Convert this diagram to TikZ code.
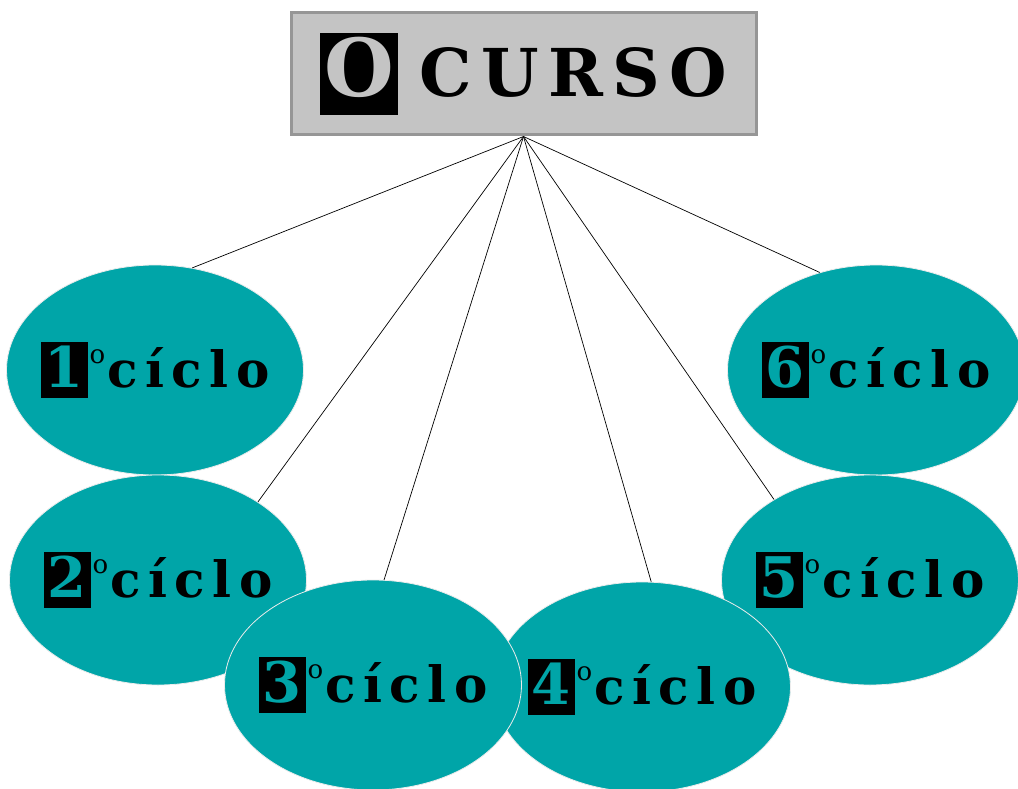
\documentclass[tikz,border=0pt]{standalone}
\usepackage{fontspec}
\setmainfont{DejaVu Serif}
\usetikzlibrary{shapes.geometric}
\definecolor{tealfill}{RGB}{0,165,168}
\definecolor{boxgray}{RGB}{196,196,196}
\definecolor{boxedge}{RGB}{150,150,150}
% black drop-cap box: colour, font size, strut depth, strut height, letter
\newcommand{\capbox}[5]{{\fboxsep=4pt\colorbox{black}{\fontsize{#2}{#2}\selectfont\rule[-#3]{0pt}{#4}\textcolor{#1}{#5}}}}
\newcommand{\ordring}{\hspace{2pt}\raisebox{24pt}{\fontsize{26}{26}\selectfont\mdseries o}\hspace{2pt}}
\newcommand{\ciclolabel}[1]{\makebox[0pt][c]{\capbox{tealfill}{56pt}{7pt}{48pt}{#1}\ordring{\addfontfeature{LetterSpace=15}cíclo}}}

\begin{document}
\begin{tikzpicture}[x=1pt,y=-1pt]
	\tikzstyle{every node}+=[inner sep=0pt]
	\tikzstyle{titlebox}=[rectangle, fill=boxgray, draw=boxedge, line width=3pt, minimum width=465pt, minimum height=122pt, font=\fontsize{66}{70}\selectfont\bfseries]
	\tikzstyle{elipse}=[ellipse, fill=tealfill, draw=white!85!gray, line width=0.8pt, minimum width=297pt, minimum height=210pt, font=\fontsize{50}{54}\selectfont\bfseries]
	\useasboundingbox (0,0) rectangle (1018,789);
	% title
	\node [titlebox] (curso) at (523.5,74) {\capbox{boxgray}{80pt}{14pt}{72pt}{O}\hspace{22pt}{\addfontfeature{LetterSpace=14}CURSO}};
	% the six cycles
	\node [elipse] (c1) at (155,370) {\ciclolabel{1}};
	\node [elipse] (c2) at (158,580) {\ciclolabel{2}};
	\node [elipse] (c6) at (876,370) {\ciclolabel{6}};
	\node [elipse] (c5) at (870,580) {\ciclolabel{5}};
	\node [elipse] (c4) at (642,687) {\ciclolabel{4}};
	\node [elipse] (c3) at (373,685) {\ciclolabel{3}};
	% links
	\draw [black, line width=0.7pt] (curso.south) -- (c1.70);
	\draw [black, line width=0.7pt] (curso.south) -- (c2.38);
	\draw [black, line width=0.7pt] (curso.south) -- (c3.84);
	\draw [black, line width=0.7pt] (curso.south) -- (c4.85);
	\draw [black, line width=0.7pt] (curso.south) -- (c5.140);
	\draw [black, line width=0.7pt] (curso.south) -- (c6.120);
\end{tikzpicture}
\end{document}
